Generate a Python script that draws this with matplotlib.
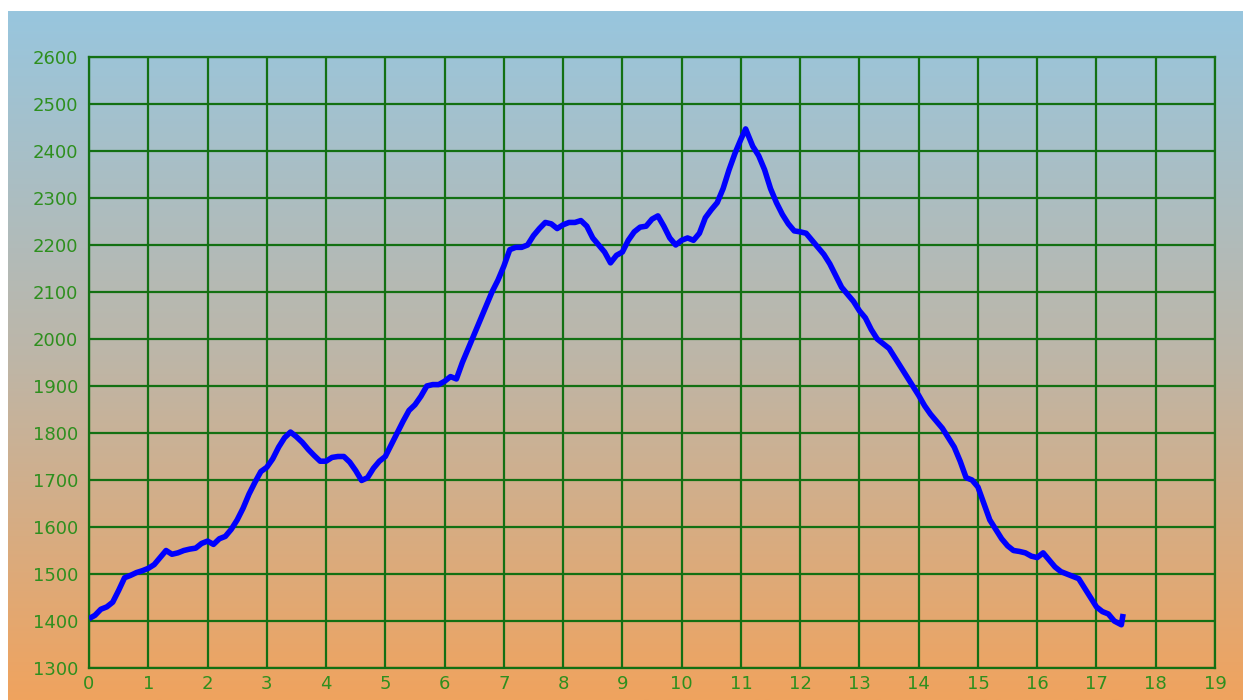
import numpy as np
import matplotlib
matplotlib.use("Agg")
import matplotlib.pyplot as plt
from matplotlib.colors import LinearSegmentedColormap

# distance (km) and elevation (m)
dist = [0.0, 0.1, 0.2, 0.3, 0.4, 0.5, 0.6, 0.7, 0.8, 0.9,
        1.0, 1.1, 1.2, 1.3, 1.4, 1.5, 1.6, 1.7, 1.8, 1.9,
        2.0, 2.1, 2.2, 2.3, 2.4, 2.5, 2.6, 2.7, 2.8, 2.9,
        3.0, 3.1, 3.2, 3.3, 3.4, 3.5, 3.6, 3.7, 3.8, 3.9,
        4.0, 4.1, 4.2, 4.3, 4.4, 4.5, 4.6, 4.7, 4.8, 4.9,
        5.0, 5.1, 5.2, 5.3, 5.4, 5.5, 5.6, 5.7, 5.8, 5.9,
        6.0, 6.1, 6.2, 6.3, 6.4, 6.5, 6.6, 6.7, 6.8, 6.9,
        7.0, 7.1, 7.2, 7.3, 7.4, 7.5, 7.6, 7.7, 7.8, 7.9,
        8.0, 8.1, 8.2, 8.3, 8.4, 8.5, 8.6, 8.7, 8.8, 8.9,
        9.0, 9.1, 9.2, 9.3, 9.4, 9.5, 9.6, 9.7, 9.8, 9.9,
        10.0, 10.1, 10.2, 10.3, 10.4, 10.5, 10.6, 10.7, 10.8, 10.9,
        11.0, 11.08, 11.2, 11.3, 11.4, 11.5, 11.6, 11.7, 11.8, 11.9,
        12.0, 12.1, 12.2, 12.3, 12.4, 12.5, 12.6, 12.7, 12.8, 12.9,
        13.0, 13.1, 13.2, 13.3, 13.4, 13.5, 13.6, 13.7, 13.8, 13.9,
        14.0, 14.1, 14.2, 14.3, 14.4, 14.5, 14.6, 14.7, 14.8, 14.9,
        15.0, 15.1, 15.2, 15.3, 15.4, 15.5, 15.6, 15.7, 15.8, 15.9,
        16.0, 16.1, 16.2, 16.3, 16.4, 16.5, 16.6, 16.7, 16.8, 16.9,
        17.0, 17.1, 17.2, 17.3, 17.42, 17.45]
elev = [1405, 1412, 1425, 1430, 1440, 1465, 1492, 1497, 1503, 1507,
        1512, 1520, 1535, 1550, 1542, 1545, 1550, 1553, 1555, 1565,
        1570, 1563, 1575, 1580, 1595, 1615, 1640, 1670, 1695, 1718,
        1727, 1745, 1770, 1790, 1802, 1792, 1780, 1765, 1752, 1740,
        1740, 1748, 1750, 1750, 1738, 1720, 1699, 1705, 1725, 1740,
        1750, 1775, 1800, 1825, 1848, 1860, 1878, 1900, 1903, 1903,
        1910, 1920, 1915, 1950, 1980, 2010, 2040, 2070, 2100, 2125,
        2155, 2190, 2195, 2195, 2200, 2220, 2235, 2248, 2245, 2235,
        2243, 2248, 2248, 2252, 2240, 2215, 2200, 2185, 2162, 2178,
        2185, 2210, 2228, 2238, 2240, 2255, 2262, 2240, 2215, 2200,
        2210, 2215, 2210, 2225, 2258, 2275, 2290, 2320, 2360, 2395,
        2425, 2447, 2410, 2390, 2360, 2320, 2290, 2265, 2245, 2230,
        2228, 2225, 2210, 2195, 2180, 2160, 2135, 2110, 2095, 2080,
        2060, 2045, 2020, 2000, 1990, 1980, 1960, 1940, 1920, 1900,
        1880, 1858, 1840, 1825, 1810, 1790, 1770, 1740, 1705, 1700,
        1685, 1650, 1615, 1595, 1575, 1560, 1550, 1548, 1545, 1538,
        1535, 1545, 1530, 1515, 1505, 1500, 1495, 1490, 1470, 1450,
        1430, 1420, 1415, 1400, 1392, 1415]

xticks = list(range(0, 20))
yticks = list(range(1300, 2700, 100))

W, H = 1243, 700
fig = plt.figure(figsize=(W / 100, H / 100), dpi=100)
fig.patch.set_facecolor("white")

# gradient background (white strip on top and left)
bg = fig.add_axes([8 / W, 0, 1 - 8 / W, 1 - 11 / H])
cmap = LinearSegmentedColormap.from_list(
    "sky", ["#98c6de", "#bdb6a8", "#f0a35e"])
bg.imshow(np.linspace(0, 1, 256).reshape(-1, 1), aspect="auto", cmap=cmap,
          extent=[0, 1, 0, 1], origin="upper")
bg.set_axis_off()

grid_col = "#137013"
ax = fig.add_axes([89 / W, (H - 668) / H, (1215 - 89) / W, (668 - 57) / H])
ax.set_facecolor("none")
ax.plot(dist, elev, color="#0000ff", linewidth=4.0, zorder=3,
        solid_joinstyle="round", solid_capstyle="butt")

ax.set_xlim(0, 19)
ax.set_ylim(1300, 2600)
ax.set_xticks(xticks)
ax.set_yticks(yticks)
ax.grid(True, color=grid_col, linewidth=1.6)
for s in ax.spines.values():
    s.set_color(grid_col)
    s.set_linewidth(1.6)
ax.tick_params(length=0, colors="#2e8f1e", labelsize=13)
ax.tick_params(axis="y", pad=8)
ax.tick_params(axis="x", pad=5)

fig.savefig("out.png", dpi=100)
